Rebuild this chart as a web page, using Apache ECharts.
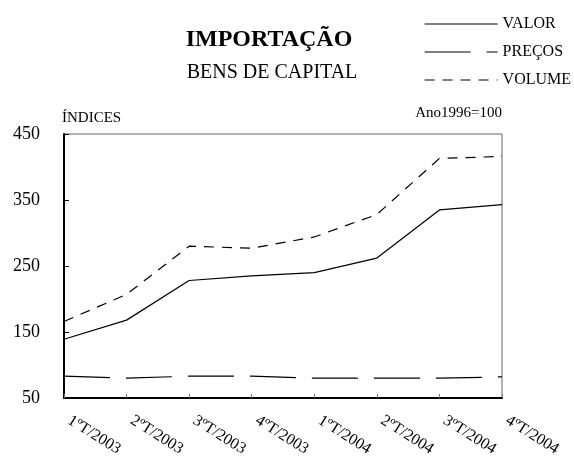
<!DOCTYPE html>
<html>
<head>
<meta charset="utf-8">
<script src="https://cdn.jsdelivr.net/npm/echarts@6/dist/echarts.min.js"></script>
<style>
    html, body { margin: 0; padding: 0; background: #fff; }
    #chart { width: 574px; height: 457px; }
</style>
</head>
<body>
<div id="chart"></div>
<script>
    // trimestres
    const categories = ['1ºT/2003', '2ºT/2003', '3ºT/2003', '4ºT/2003', '1ºT/2004', '2ºT/2004', '3ºT/2004', '4ºT/2004'];
    // índices, ano 1996 = 100
    const valor = [139, 168, 228, 235, 240, 262, 335, 343];
    const precos = [83, 80, 83, 83, 80, 80, 80, 82];
    const volume = [166, 207, 280, 277, 294, 328, 413, 416];
    const yTicks = [50, 150, 250, 350, 450];

    const font = '"Liberation Serif", "Times New Roman", serif';

    const chart = echarts.init(document.getElementById('chart'));

    function lineSeries(name, data, type) {
        return {
            name: name,
            type: 'line',
            data: data,
            symbol: 'none',
            animation: false,
            itemStyle: { color: '#000' },
            lineStyle: { color: '#000', width: 1.2, type: type },
        };
    }

    chart.setOption({
        backgroundColor: '#fff',
        textStyle: { fontFamily: font, color: '#000' },
        graphic: [
            {
                type: 'text',
                x: 269,
                y: 40,
                style: {
                    text: 'IMPORTAÇÃO',
                    font: 'bold 24px ' + font,
                    fill: '#000',
                    align: 'center',
                    verticalAlign: 'middle',
                },
            },
            {
                type: 'text',
                x: 272,
                y: 73,
                style: {
                    text: 'BENS DE CAPITAL',
                    font: '20px ' + font,
                    fill: '#000',
                    align: 'center',
                    verticalAlign: 'middle',
                },
            },
            {
                type: 'text',
                x: 502,
                y: 113,
                style: {
                    text: 'Ano1996=100',
                    font: '15px ' + font,
                    fill: '#000',
                    align: 'right',
                    verticalAlign: 'middle',
                },
            },
        ],
        legend: {
            orient: 'vertical',
            left: 424,
            top: 16,
            padding: 0,
            itemGap: 12,
            itemWidth: 73,
            itemHeight: 14,
            data: ['VALOR', 'PREÇOS', 'VOLUME'],
            itemStyle: { opacity: 0 },
            lineStyle: { width: 1.2 },
            textStyle: { fontFamily: font, fontSize: 16, color: '#000' },
        },
        grid: {
            left: 64,
            right: 72,
            top: 134,
            bottom: 59,
            show: true,
            borderColor: '#666',
            borderWidth: 1,
            containLabel: false,
            outerBoundsMode: 'none',
        },
        xAxis: {
            type: 'category',
            data: categories,
            boundaryGap: false,
            axisLine: { lineStyle: { color: '#000', width: 2 } },
            axisTick: { inside: true, length: 4, lineStyle: { color: '#777' } },
            axisLabel: {
                interval: 0,
                rotate: -32,
                margin: 18,
                fontSize: 16,
                color: '#000',
                fontFamily: font,
                padding: [0, 0, 0, 6],
            },
            splitLine: { show: false },
        },
        yAxis: {
            type: 'value',
            min: yTicks[0],
            max: yTicks[yTicks.length - 1],
            interval: 100,
            name: 'ÍNDICES',
            nameLocation: 'end',
            nameGap: 16,
            nameTextStyle: {
                align: 'left',
                verticalAlign: 'middle',
                fontSize: 15,
                color: '#000',
                fontFamily: font,
                padding: [0, 0, 0, -2],
            },
            axisLine: { show: true, lineStyle: { color: '#000', width: 2 } },
            axisTick: { show: true, inside: true, length: 5, lineStyle: { color: '#000' } },
            axisLabel: { margin: 24, fontSize: 18, color: '#000', fontFamily: font },
            splitLine: { show: false },
        },
        series: [
            lineSeries('VALOR', valor, 'solid'),
            lineSeries('PREÇOS', precos, [46, 16]),
            lineSeries('VOLUME', volume, [10, 8]),
        ],
    });
</script>
</body>
</html>
